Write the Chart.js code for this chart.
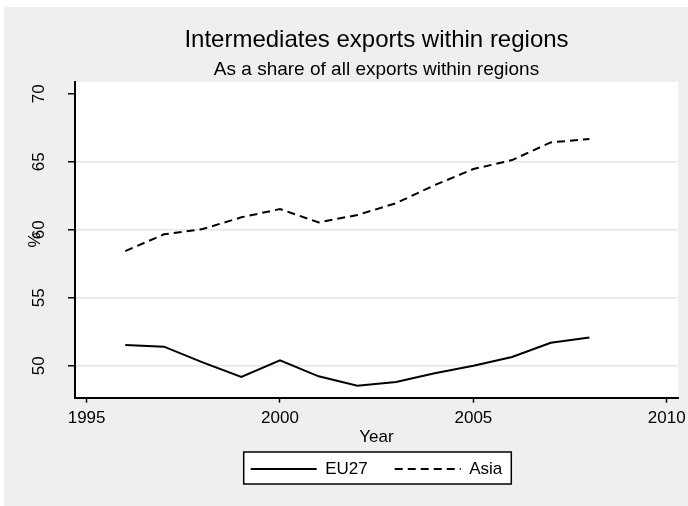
<!DOCTYPE html>
<html>
<head>
<meta charset="utf-8">
<script src="https://cdn.jsdelivr.net/npm/chart.js@4/dist/chart.umd.min.js"></script>
<style>
html,body{margin:0;padding:0;background:#fff;}
#wrap{width:688px;height:506px;position:relative;}
</style>
</head>
<body>
<div id="wrap"><canvas id="c"></canvas></div>
<script>
// ---- data ----
const years = [1996, 1997, 1998, 1999, 2000, 2001, 2002, 2003, 2004, 2005, 2006, 2007, 2008];
const eu27  = [51.52, 51.40, 50.25, 49.17, 50.39, 49.22, 48.53, 48.80, 49.44, 50.00, 50.64, 51.69, 52.08];
const asia  = [58.43, 59.66, 60.05, 60.91, 61.52, 60.54, 61.08, 61.95, 63.28, 64.46, 65.12, 66.42, 66.67];
const seriesNames = ['EU27', 'Asia'];
const xTicks = [1995, 2000, 2005, 2010];
const yTicks = [50, 55, 60, 65, 70];
const yGridValues = [50, 55, 60, 65];
const titleText = 'Intermediates exports within regions';
const subtitleText = 'As a share of all exports within regions';
const xTitle = 'Year';
const yTitle = '%';

Chart.defaults.font.family = "'Liberation Sans', Arial, Helvetica, sans-serif";
Chart.defaults.color = '#000';

const bgPlugin = {
  id: 'bg',
  beforeDraw(chart) {
    const {ctx, chartArea: a} = chart;
    ctx.save();
    ctx.fillStyle = '#ffffff';
    ctx.fillRect(0, 0, chart.width, chart.height);
    ctx.fillStyle = '#efefef';
    ctx.fillRect(4, 7, chart.width - 4, chart.height - 7);
    ctx.fillStyle = '#ffffff';
    ctx.fillRect(a.left, a.top, a.right - a.left, a.bottom - a.top);
    const hb = chart.legend && chart.legend.legendHitBoxes;
    if (hb && hb.length) {
      const l = Math.min(...hb.map(h => h.left)) - 7;
      const r = Math.max(...hb.map(h => h.left + h.width)) + 9;
      const t = Math.min(...hb.map(h => h.top)) - 8.5;
      const b = Math.max(...hb.map(h => h.top + h.height)) + 6.5;
      ctx.fillStyle = '#ffffff';
      ctx.fillRect(l, t, r - l, b - t);
      ctx.strokeStyle = '#000';
      ctx.lineWidth = 1.5;
      ctx.strokeRect(l, t, r - l, b - t);
    }
    ctx.restore();
  }
};

const defaultLabels = Chart.defaults.plugins.legend.labels.generateLabels;

new Chart(document.getElementById('c'), {
  type: 'line',
  data: {
    datasets: [
      {
        label: seriesNames[0],
        data: years.map((x, i) => ({x: x, y: eu27[i]})),
        borderColor: '#000',
        backgroundColor: '#000',
        borderWidth: 2,
        pointRadius: 0,
        tension: 0,
        fill: false
      },
      {
        label: seriesNames[1],
        data: years.map((x, i) => ({x: x, y: asia[i]})),
        borderColor: '#000',
        backgroundColor: '#000',
        borderWidth: 2,
        borderDash: [8, 5],
        pointRadius: 0,
        tension: 0,
        fill: false
      }
    ]
  },
  options: {
    responsive: true,
    maintainAspectRatio: false,
    animation: false,
    devicePixelRatio: 1,
    layout: { padding: { left: 4, right: 10, top: 7, bottom: 18.5 } },
    plugins: {
      title: {
        display: true, text: titleText, fullSize: false,
        font: { size: 24, weight: 'normal' }, color: '#000',
        padding: { top: 19.4, bottom: 0 }
      },
      subtitle: {
        display: true, text: subtitleText, fullSize: false,
        font: { size: 19, weight: 'normal' }, color: '#000',
        padding: { top: 3.4, bottom: 0.6 }
      },
      legend: {
        position: 'bottom', fullSize: false,
        labels: {
          usePointStyle: true, pointStyle: 'line', pointStyleWidth: 66,
          padding: 27, color: '#000', font: { size: 17 },
          generateLabels: chart => defaultLabels(chart).map((l, i) => {
            const ds = chart.data.datasets[l.datasetIndex];
            return Object.assign({}, l, {
              lineDash: ds.borderDash || [],
              lineWidth: ds.borderWidth,
              strokeStyle: ds.borderColor
            });
          })
        }
      },
      tooltip: { enabled: false }
    },
    scales: {
      x: {
        type: 'linear', min: 1994.70, max: 2010.29,
        afterBuildTicks: s => { s.ticks = xTicks.map(v => ({value: v})); },
        ticks: { callback: v => String(v), font: { size: 17 }, color: '#000', padding: 5, maxRotation: 0, autoSkip: false },
        grid: { drawOnChartArea: false, drawTicks: true, tickLength: 5, tickColor: '#000', tickWidth: 1.5 },
        border: { color: '#000', width: 2 },
        title: { display: true, text: xTitle, font: { size: 17 }, color: '#000', padding: { top: 0, bottom: -13.7 } },
        afterFit: s => { s.height = 35.8; s.paddingLeft = 0; s.paddingRight = 0; }
      },
      y: {
        type: 'linear', min: 47.65, max: 70.86,
        afterBuildTicks: s => { s.ticks = yTicks.map(v => ({value: v})); },
        ticks: { callback: v => String(v), font: { size: 17 }, color: '#000', padding: 19.5, minRotation: 90, maxRotation: 90, crossAlign: 'center' },
        grid: {
          color: c => (c.tick && yGridValues.includes(c.tick.value)) ? '#e6e6e6' : 'rgba(0,0,0,0)',
          lineWidth: 1.5, tickColor: '#000', tickLength: 7, tickWidth: 1.5
        },
        border: { color: '#000', width: 2 },
        title: { display: true, text: yTitle, font: { size: 17 }, color: '#000', padding: { top: 20.8, bottom: 0 } },
        afterFit: s => { s.width = 71; s.paddingTop = 0; s.paddingBottom = 0; }
      }
    }
  },
  plugins: [bgPlugin]
});
</script>
</body>
</html>
